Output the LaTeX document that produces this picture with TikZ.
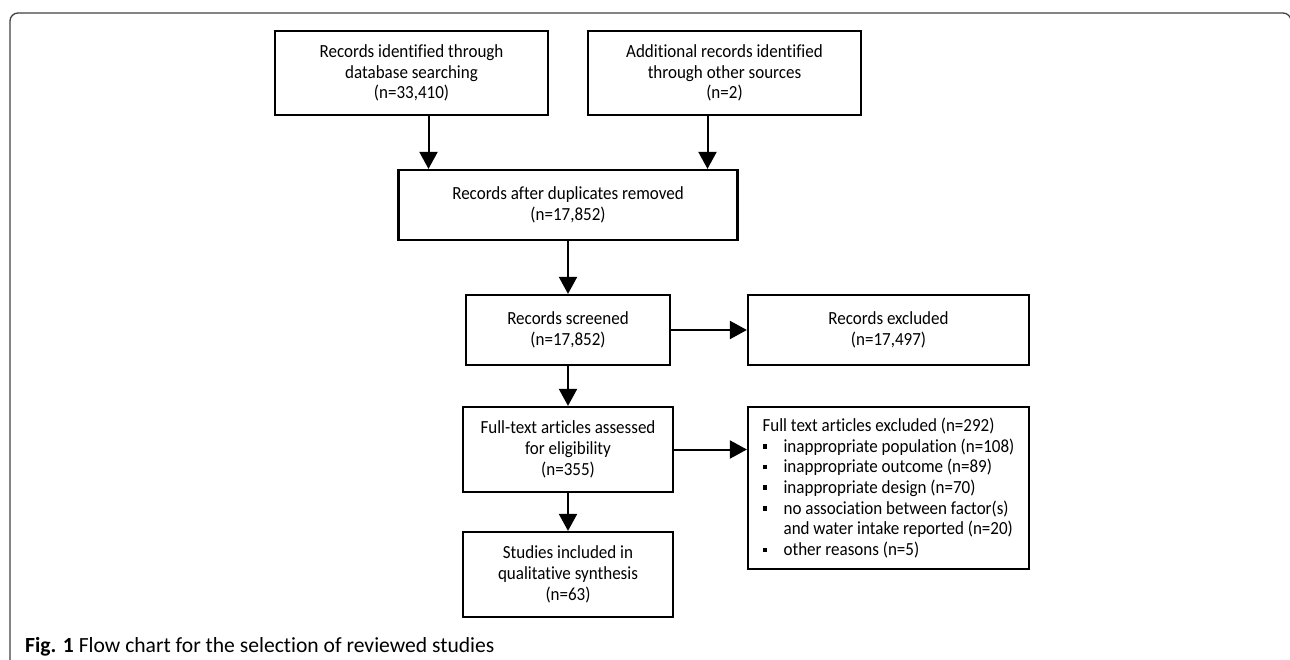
\documentclass[tikz,border=0pt]{standalone}
\usepackage{fontspec}
\setmainfont{Carlito}[Ligatures=NoCommon]
\newfontfamily\boxfont{Carlito}[FakeStretch=0.92, Ligatures=NoCommon]
\usetikzlibrary{arrows.meta}

\def\armOff{17}
\newcommand{\sqbul}{\makebox[21pt][l]{\raisebox{3.5pt}{\rule{4.5pt}{4.5pt}}}}

\tikzset{
  flowbox/.style 2 args={draw, line width=2.2pt, minimum width=#1, minimum height=#2,
    inner sep=0pt, align=center, font=\boxfont\fontsize{18.5}{20.7}\selectfont},
  flowarrow/.style={line width=2pt, -{Triangle[length=17pt,width=18pt]}},
}

\begin{document}
\begin{tikzpicture}[x=1pt, y=-1pt]
  \useasboundingbox (0,0) rectangle (1290,660);
  \clip (0,0) rectangle (1290,660);
  % frame
  \draw[line width=1.3pt, black!75, rounded corners=8pt] (10,665) -- (10,13) -- (1291,13) -- (1291,40);

  % boxes
  \node[flowbox={273.5pt}{84pt}] (ident) at (411.5,73) {Records identified through\\database searching\\(n=33,410)};
  \node[flowbox={273pt}{84pt}] (other) at (724.5,73) {Additional records identified\\through other sources\\(n=2)};
  \node[flowbox={339pt}{70pt}] (dupl) at (568,205) {Records after duplicates removed\\(n=17,852)};
  \node[flowbox={203.5pt}{70pt}] (screen) at (568,330) {Records screened\\(n=17,852)};
  \node[flowbox={281pt}{70pt}] (excl) at (888.5,330) {Records excluded\\(n=17,497)};
  \node[flowbox={209.5pt}{85pt}] (full) at (568,449.5) {Full-text articles assessed\\for eligibility\\(n=355)};
  \node[flowbox={281pt}{162pt}, align=left] (fullexcl) at (888.5,488) {Full text articles excluded (n=292)\\
    \sqbul inappropriate population (n=108)\\
    \sqbul inappropriate outcome (n=89)\\
    \sqbul inappropriate design (n=70)\\
    \sqbul no association between factor(s)\\
    \hspace*{21pt}and water intake reported (n=20)\\
    \sqbul other reasons (n=5)};
  \node[flowbox={210pt}{85pt}] (incl) at (568,574.5) {Studies included in\\qualitative synthesis\\(n=63)};

  % connectors
  \draw[flowarrow] ([xshift=\armOff pt]ident.south) -- ([xshift=\armOff pt]ident.south |- dupl.north);
  \draw[flowarrow] ([xshift=-\armOff pt]other.south) -- ([xshift=-\armOff pt]other.south |- dupl.north);
  \draw[flowarrow] (dupl) -- (screen);
  \draw[flowarrow] (screen) -- (excl);
  \draw[flowarrow] (screen) -- (full);
  \draw[flowarrow] (full) -- (full -| fullexcl.west);
  \draw[flowarrow] (full) -- (incl);

  % caption
  \node[anchor=base west, inner sep=0pt, font=\fontsize{21.6}{24}\selectfont] (caption) at (25,652)
    {\textbf{Fig. 1} Flow chart for the selection of reviewed studies};
\end{tikzpicture}
\end{document}
